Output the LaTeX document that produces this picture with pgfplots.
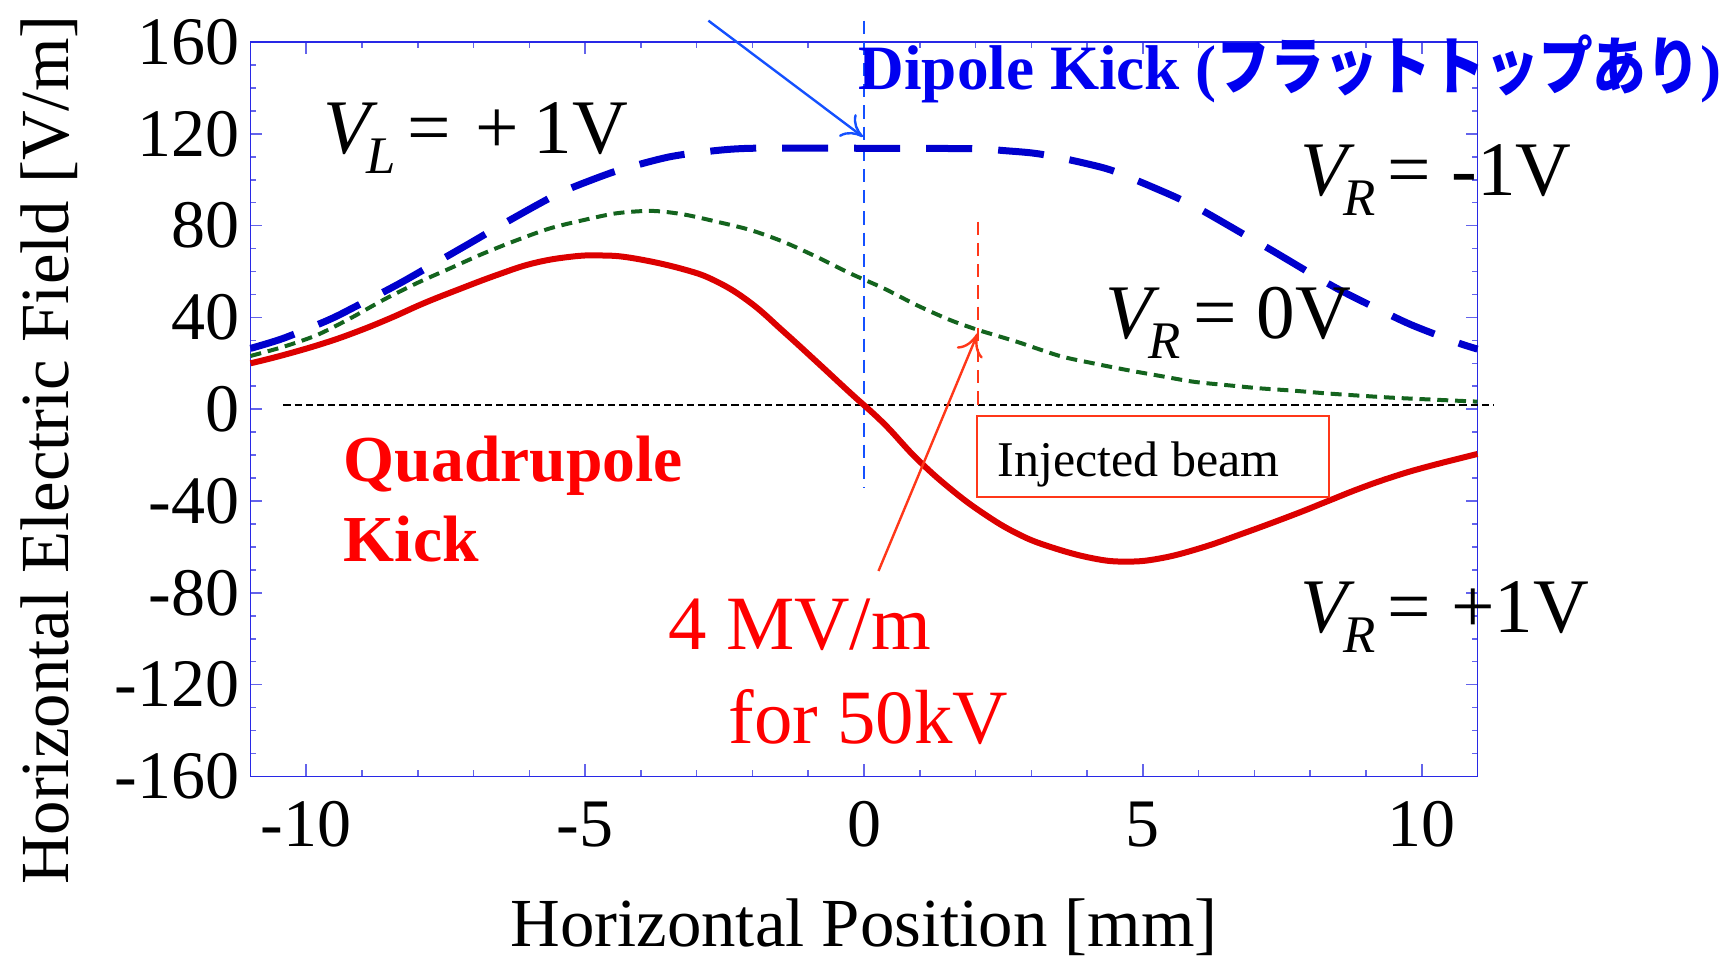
\documentclass[border=0pt]{standalone}
\usepackage{fontspec}
\setmainfont{Liberation Serif}
\newfontfamily\jpfont{Noto Sans CJK JP}[FakeStretch=0.85]
\usepackage{pgfplots}
\pgfplotsset{compat=1.18}
\usetikzlibrary{arrows.meta}
\definecolor{axisblue}{RGB}{40,40,230}
\definecolor{tickblue}{RGB}{100,100,235}
\definecolor{dipole}{RGB}{0,0,205}
\definecolor{titleblue}{RGB}{0,0,240}
\definecolor{vblue}{RGB}{20,80,255}
\definecolor{vgreen}{RGB}{20,100,30}
\definecolor{quadred}{RGB}{220,0,0}
\definecolor{textred}{RGB}{255,0,0}
\definecolor{boxred}{RGB}{255,55,25}
\newcommand\Vsub[4]{{\itshape V}\kern-1pt\raisebox{-5pt}{\fontsize{13.2}{14}\selectfont\itshape #1}\kern#2=\kern#3 #4}
\begin{document}
\begin{tikzpicture}
\begin{axis}[
  scale only axis, width=306.75pt, height=183.6pt,
  xmin=-11, xmax=11, ymin=-160, ymax=160,
  xtick={-10,-5,0,5,10}, xticklabels={-10,-5,0,5,10},
  ytick={-160,-120,-80,-40,0,40,80,120,160},
  yticklabels={-160,-120,-80,-40,0,40,80,120,160},
  minor x tick num=4, minor y tick num=3,
  tick align=inside,
  major tick length=3pt, minor tick length=1.5pt,
  axis line style={draw=axisblue, line width=0.45pt},
  tick style={draw=tickblue, line width=0.4pt},
  ticklabel style={font=\fontsize{17}{20}\selectfont, text=black},
  xticklabel style={yshift=-2.8pt},
  yticklabel style={xshift=0.8pt},
  xlabel={Horizontal Position [mm]},
  ylabel={Horizontal Electric Field [V/m]},
  label style={font=\fontsize{17.2}{20}\selectfont},
  xlabel style={at={(axis description cs:0.5,-0.2318)}, anchor=base},
  ylabel style={at={(axis description cs:-0.1487,0.444)}, anchor=base},
  clip=false,
]
% helper lines
\addplot[black, line width=0.4pt, dash pattern=on 1.8pt off 1pt] coordinates {(-10.41,1.8) (11.28,1.8)};
\addplot[vblue, line width=0.6pt, dash pattern=on 3.3pt off 2pt] coordinates {(0,169.3) (0,-34.5)};
\addplot[boxred, line width=0.6pt, dash pattern=on 3.3pt off 2pt] coordinates {(2.04,81.7) (2.04,1.8)};
% dipole kick, V_R = -1V
\addplot[dipole, line width=1.75pt, dash pattern=on 11.5pt off 6.5pt, smooth, tension=0.5] coordinates {
(-11,26.5) (-10.41,30.9) (-9.6,38.9) (-9.12,44.7) (-8.38,54.1) (-7.9,60.7) (-7.09,72.0) (-6.61,78.8) (-5.81,89.7) (-5.34,95.5) (-4.56,102.8) (-4.07,106.4) (-3.48,110.0) (-2.85,112.2) (-2.01,113.7) (0,113.7) (2.0,113.5) (2.5,112.7) (3.03,111.6) (3.51,109.6) (4.32,105.0) (4.80,100.6) (5.57,92.6) (6.05,86.8) (6.83,75.9) (7.32,69.1) (8.11,57.7) (8.59,51.2) (9.37,41.8) (9.86,36.3) (10.64,29.0) (11,26.2)};
% V_R = 0V
\addplot[vgreen, line width=1pt, dash pattern=on 2.75pt off 1.7pt, smooth, tension=0.5] coordinates {
(-11,23.2) (-10.41,27.2) (-9.81,32.3) (-9.21,39.6) (-8.62,47.6) (-8.02,54.9) (-7.42,61.4) (-6.82,67.9) (-6.22,73.7) (-5.63,78.8) (-5.03,82.4) (-4.43,85.4) (-3.8,86.4) (-3.24,84.9) (-2.64,81.7) (-2.04,78.1) (-1.45,73.0) (-0.85,66.4) (-0.25,59.2) (0.35,52.7) (0.94,45.4) (1.54,38.9) (2.05,34.5) (2.74,29.4) (3.51,23.2) (4.11,20.0) (4.71,17.1) (5.31,14.5) (5.90,12.0) (6.50,10.5) (7.10,9.1) (7.69,8.1) (8.29,6.9) (8.89,5.9) (9.49,5.0) (10.09,4.3) (11,3.3)};
% quadrupole kick, V_R = +1V
\addplot[quadred, line width=1.5pt, smooth, tension=0.7] coordinates {
(-11,20.0) (-10.41,23.6) (-9.69,28.7) (-9.09,33.8) (-8.50,39.6) (-7.90,46.1) (-7.30,51.9) (-6.58,58.5) (-5.93,63.6) (-5.27,66.4) (-4.73,67.0) (-4.14,65.8) (-3.24,61.0) (-2.64,55.6) (-2.04,46.5) (-1.45,34.0) (-0.85,20.7) (-0.25,7.2) (0.35,-6.1) (0.94,-21.4) (1.54,-34.5) (2.14,-45.4) (2.74,-54.1) (3.33,-59.9) (4.11,-65.0) (4.71,-66.4) (5.31,-65.0) (6.02,-60.6) (6.80,-54.1) (7.69,-46.1) (8.29,-40.3) (8.89,-34.5) (9.49,-29.4) (10.09,-25.1) (11,-19.5)};
% annotations
\draw[vblue, line width=0.6pt, -{To[length=5pt,width=7pt]}] (axis cs:-2.79,169.3) -- (axis cs:-0.02,118.7);
\draw[boxred, line width=0.6pt, -{To[length=5.5pt,width=7pt]}] (axis cs:0.26,-70.5) -- (axis cs:2.04,33.1);
\draw[boxred, line width=0.5pt] (axis cs:2.02,-2.9) rectangle (axis cs:8.34,-38.4);
\node[anchor=base west, inner sep=0pt, font=\fontsize{12.5}{14}\selectfont] at (axis cs:2.38,-29.1) {Injected beam};
\node[anchor=base west, inner sep=0pt, font=\fontsize{19.3}{22}\selectfont] at (axis cs:-9.71,111.6) {\Vsub{L}{3pt}{6pt}{+\kern3.8pt 1V}};
\node[anchor=base west, inner sep=0pt, font=\fontsize{19.3}{22}\selectfont] at (axis cs:7.81,93.3) {\Vsub{R}{3pt}{5pt}{-1V}};
\node[anchor=base west, inner sep=0pt, font=\fontsize{19.3}{22}\selectfont] at (axis cs:4.32,30.9) {\Vsub{R}{3pt}{5pt}{0V}};
\node[anchor=base west, inner sep=0pt, font=\fontsize{19.3}{22}\selectfont] at (axis cs:7.81,-97.4) {\Vsub{R}{3pt}{5pt}{+1V}};
\node[anchor=base west, inner sep=0pt, text=titleblue, font=\fontsize{15.8}{18}\selectfont\bfseries] at (axis cs:-0.11,139.1) {Dipole Kick ({\jpfont\bfseries フラットトップあり})};
\node[anchor=base west, inner sep=0pt, text=textred, font=\fontsize{16.4}{18}\selectfont\bfseries] at (axis cs:-9.34,-31.6) {Quadrupole};
\node[anchor=base west, inner sep=0pt, text=textred, font=\fontsize{16.4}{18}\selectfont\bfseries] at (axis cs:-9.34,-66.4) {Kick};
\node[anchor=base west, inner sep=0pt, text=textred, font=\fontsize{19.2}{22}\selectfont] at (axis cs:-3.52,-104.9) {4 MV/m};
\node[anchor=base west, inner sep=0pt, text=textred, font=\fontsize{19.2}{22}\selectfont] at (axis cs:-2.44,-145.6) {for 50kV};
\end{axis}
\pgfresetboundingbox
\path[use as bounding box] ([shift={(-62.625pt,-45.15pt)}]current axis.south west) rectangle ([shift={(367.875pt,194.1pt)}]current axis.south west);
\end{tikzpicture}
\end{document}
